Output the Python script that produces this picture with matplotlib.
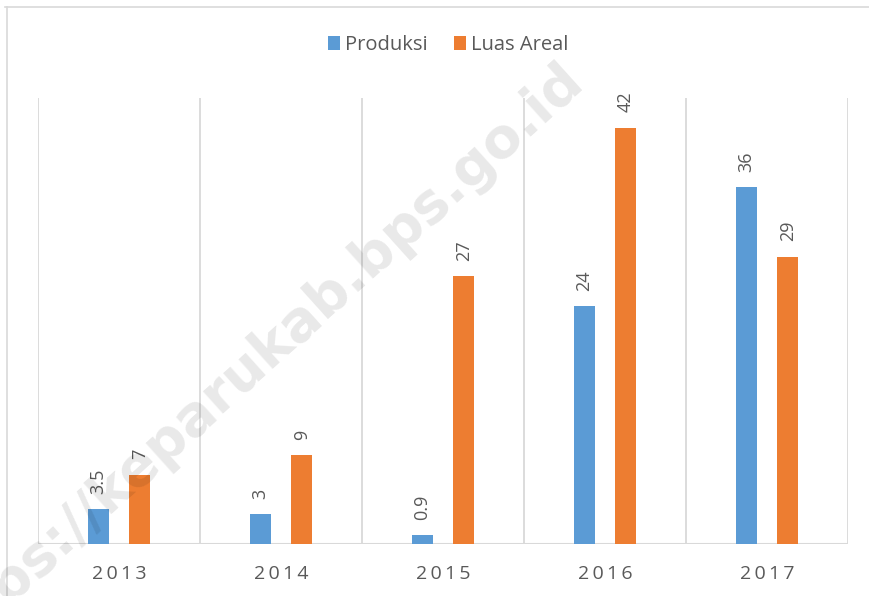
import matplotlib
matplotlib.use("Agg")
import matplotlib.pyplot as plt
from matplotlib.lines import Line2D
import numpy as np

years = ["2013", "2014", "2015", "2016", "2017"]
produksi = [3.5, 3, 0.9, 24, 36]
luas_areal = [7, 9, 27, 42, 29]
prod_labels = ["3.5", "3", "0.9", "24", "36"]
luas_labels = ["7", "9", "27", "42", "29"]

blue = "#5b9bd5"
orange = "#ed7d31"
grid_c = "#d9d9d9"
text_c = "#595959"

plt.rcParams['font.family'] = ['Open Sans', 'DejaVu Sans']

fig = plt.figure(figsize=(8.69, 5.96), dpi=100)
ax = fig.add_axes([38/869, 1-544/596, (848-38)/869, (544-98)/596])

x = np.arange(len(years))
w = 0.13
off = 0.128
b1 = ax.bar(x - off, produksi, w, color=blue, zorder=3, label="Produksi")
b2 = ax.bar(x + off, luas_areal, w, color=orange, zorder=3, label="Luas Areal")

for bars, labs in ((b1, prod_labels), (b2, luas_labels)):
    for r, lab in zip(bars, labs):
        ax.annotate(lab, (r.get_x() + r.get_width()/2, r.get_height()),
                    xytext=(0, 11), textcoords="offset points",
                    rotation=90, ha="center", va="bottom",
                    fontsize=13, color=text_c, zorder=4)

ax.set_xlim(-0.5, len(years) - 0.5)
ax.set_ylim(0, 45)
for b in np.arange(-0.5, len(years), 1.0):
    ax.axvline(b, color=grid_c, lw=1.3, zorder=1)
ax.axhline(0, color=grid_c, lw=1.5, zorder=2)

for s in ax.spines.values():
    s.set_visible(False)
ax.set_yticks([])
ax.set_xticks(x)
ax.set_xticklabels(["\u2009".join(y) for y in years], fontsize=14, color=text_c)
ax.tick_params(axis='x', length=0, pad=15)

leg = fig.legend(handles=[b1, b2], loc="center", bbox_to_anchor=(0.516, 1-45/596),
                 ncol=2, frameon=False, fontsize=14.5, handlelength=0.6, handleheight=0.7,
                 handletextpad=0.25, columnspacing=1.3)
for t in leg.get_texts():
    t.set_color(text_c)

# chart border (top and left)
fig.add_artist(Line2D([5/869, 1.0], [1-7/596, 1-7/596], transform=fig.transFigure,
                      color=grid_c, lw=1.2))
fig.add_artist(Line2D([7/869, 7/869], [0, 1-7/596], transform=fig.transFigure,
                      color=grid_c, lw=1.2))

# watermark
fig.text(0.29, 0.39, "https://keparukab.bps.go.id", rotation=42, ha="center", va="center",
         fontsize=40, fontweight="bold", color="black", alpha=0.09, zorder=10,
         family=["DejaVu Sans"])

fig.savefig("out.png", dpi=100)
